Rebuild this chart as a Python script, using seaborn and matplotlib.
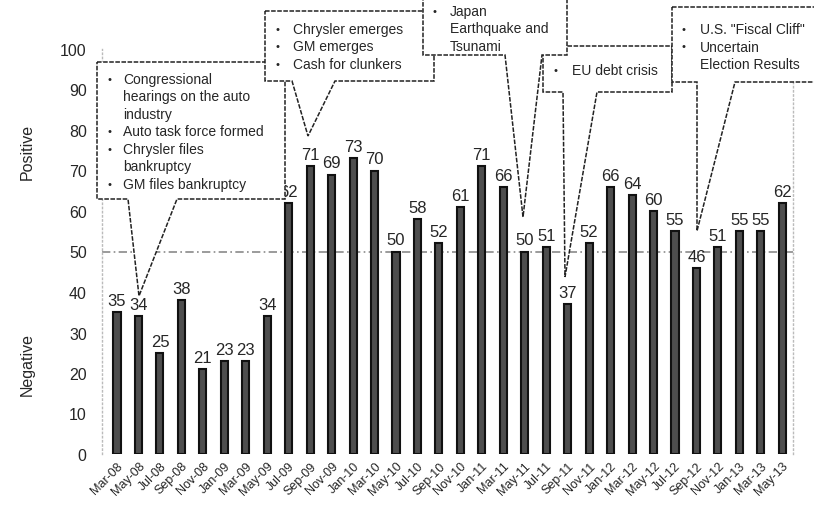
import numpy as np
import pandas as pd
import matplotlib
matplotlib.use("Agg")
import matplotlib.pyplot as plt
import seaborn as sns
from matplotlib.patches import Polygon

# ---- data ----
months = ["Mar-08", "May-08", "Jul-08", "Sep-08", "Nov-08", "Jan-09", "Mar-09", "May-09",
          "Jul-09", "Sep-09", "Nov-09", "Jan-10", "Mar-10", "May-10", "Jul-10", "Sep-10",
          "Nov-10", "Jan-11", "Mar-11", "May-11", "Jul-11", "Sep-11", "Nov-11", "Jan-12",
          "Mar-12", "May-12", "Jul-12", "Sep-12", "Nov-12", "Jan-13", "Mar-13", "May-13"]
values = [35, 34, 25, 38, 21, 23, 23, 34,
          62, 71, 69, 73, 70, 50, 58, 52,
          61, 71, 66, 50, 51, 37, 52, 66,
          64, 60, 55, 46, 51, 55, 55, 62]
yticks = [0, 10, 20, 30, 40, 50, 60, 70, 80, 90, 100]

callout_texts = [
    [("•", "Congressional"), ("", "hearings on the auto"), ("", "industry"),
     ("•", "Auto task force formed"), ("•", "Chrysler files"), ("", "bankruptcy"),
     ("•", "GM files bankruptcy")],
    [("•", "Chrysler emerges"), ("•", "GM emerges"), ("•", "Cash for clunkers")],
    [("•", "EU debt crisis")],
    [("•", "Japan"), ("", "Earthquake and"), ("", "Tsunami")],
    [("•", "U.S. \"Fiscal Cliff\""), ("•", "Uncertain"), ("", "Election Results")],
]

# callout layout in reference pixels: box (x0, y0, x1, y1), pointer base (bx0, bx1), tip (tx, ty),
# bullet x, text x, first line y, line step
callout_layout = [
    dict(box=(97, 63, 285, 200), base=(128, 177), tip=(139, 297), bx=110, tx=123, y=80, dy=17.5),
    dict(box=(265, 12, 434, 82), base=(292, 335), tip=(308, 137), bx=277, tx=293, y=30, dy=17.5),
    dict(box=(543, 47, 672, 93), base=(563, 597), tip=(565, 278), bx=555, tx=572, y=71, dy=17.5),
    dict(box=(423, -3, 567, 56), base=(505, 542), tip=(523, 218), bx=435, tx=450, y=12, dy=17.5),
    dict(box=(672, 8, 830, 83), base=(697, 735), tip=(697, 232), bx=683, tx=700, y=30, dy=17.5),
]

W, H = 814, 506
FONT = "Liberation Sans"


def fx(x):
    return x / W


def fy(y):
    return 1 - y / H


sns.set_style("white")
plt.rcParams["font.family"] = [FONT, "DejaVu Sans"]

fig = plt.figure(figsize=(8.14, 5.06), dpi=100)
ax = fig.add_axes([fx(102), fy(455), (793 - 102) / W, (455 - 50) / H])

df = pd.DataFrame({"month": months, "value": values})
sns.barplot(data=df, x="month", y="value", color="#4e4e4e", saturation=1,
            width=0.33, edgecolor="#111111", linewidth=1.5, ax=ax)

ax.bar_label(ax.containers[0], labels=[str(v) for v in values], padding=3, fontsize=12)

ax.axhline(50, color="#8a8a8a", lw=1.2, ls=(0, (5, 2, 1, 2)), zorder=0.5)

ax.set_xlim(-0.7, len(months) - 0.5)
ax.set_ylim(0, 100)
ax.set_yticks(yticks)
ax.set_yticklabels([str(t) for t in yticks], fontsize=11.5)
ax.tick_params(axis="y", length=0, pad=11)
ax.tick_params(axis="x", length=0, pad=4, labelsize=9)
plt.setp(ax.get_xticklabels(), rotation=45, ha="right", rotation_mode="anchor")
ax.set_xlabel("")
ax.set_ylabel("")

for side in ["top", "bottom"]:
    ax.spines[side].set_visible(False)
for side in ["left", "right"]:
    ax.spines[side].set_color("#bbbbbb")
    ax.spines[side].set_linestyle((0, (1, 2)))
    ax.spines[side].set_linewidth(1)

fig.text(fx(27), fy(152), "Positive", rotation=90, ha="center", va="center", fontsize=11.5)
fig.text(fx(27), fy(365), "Negative", rotation=90, ha="center", va="center", fontsize=11.5)

# callout boxes
for i, (lay, lines) in enumerate(zip(callout_layout, callout_texts)):
    x0, y0, x1, y1 = lay["box"]
    b0, b1 = lay["base"]
    tx, ty = lay["tip"]
    pts = [(x0, y0), (x1, y0), (x1, y1), (b1, y1), (tx, ty), (b0, y1), (x0, y1)]
    poly = Polygon([(fx(px), fy(py)) for px, py in pts], closed=True,
                   transform=fig.transFigure, facecolor="white", edgecolor="#222222",
                   lw=1.1, ls=(0, (3, 1)), zorder=5 + 2 * i)
    fig.add_artist(poly)
    for j, (bullet, txt) in enumerate(lines):
        yy = lay["y"] + j * lay["dy"]
        if bullet:
            fig.text(fx(lay["bx"]), fy(yy), bullet, ha="center", va="center",
                     fontsize=8, zorder=6 + 2 * i)
        fig.text(fx(lay["tx"]), fy(yy), txt, ha="left", va="center",
                 fontsize=10, zorder=6 + 2 * i)

fig.savefig("out.png", dpi=100)
